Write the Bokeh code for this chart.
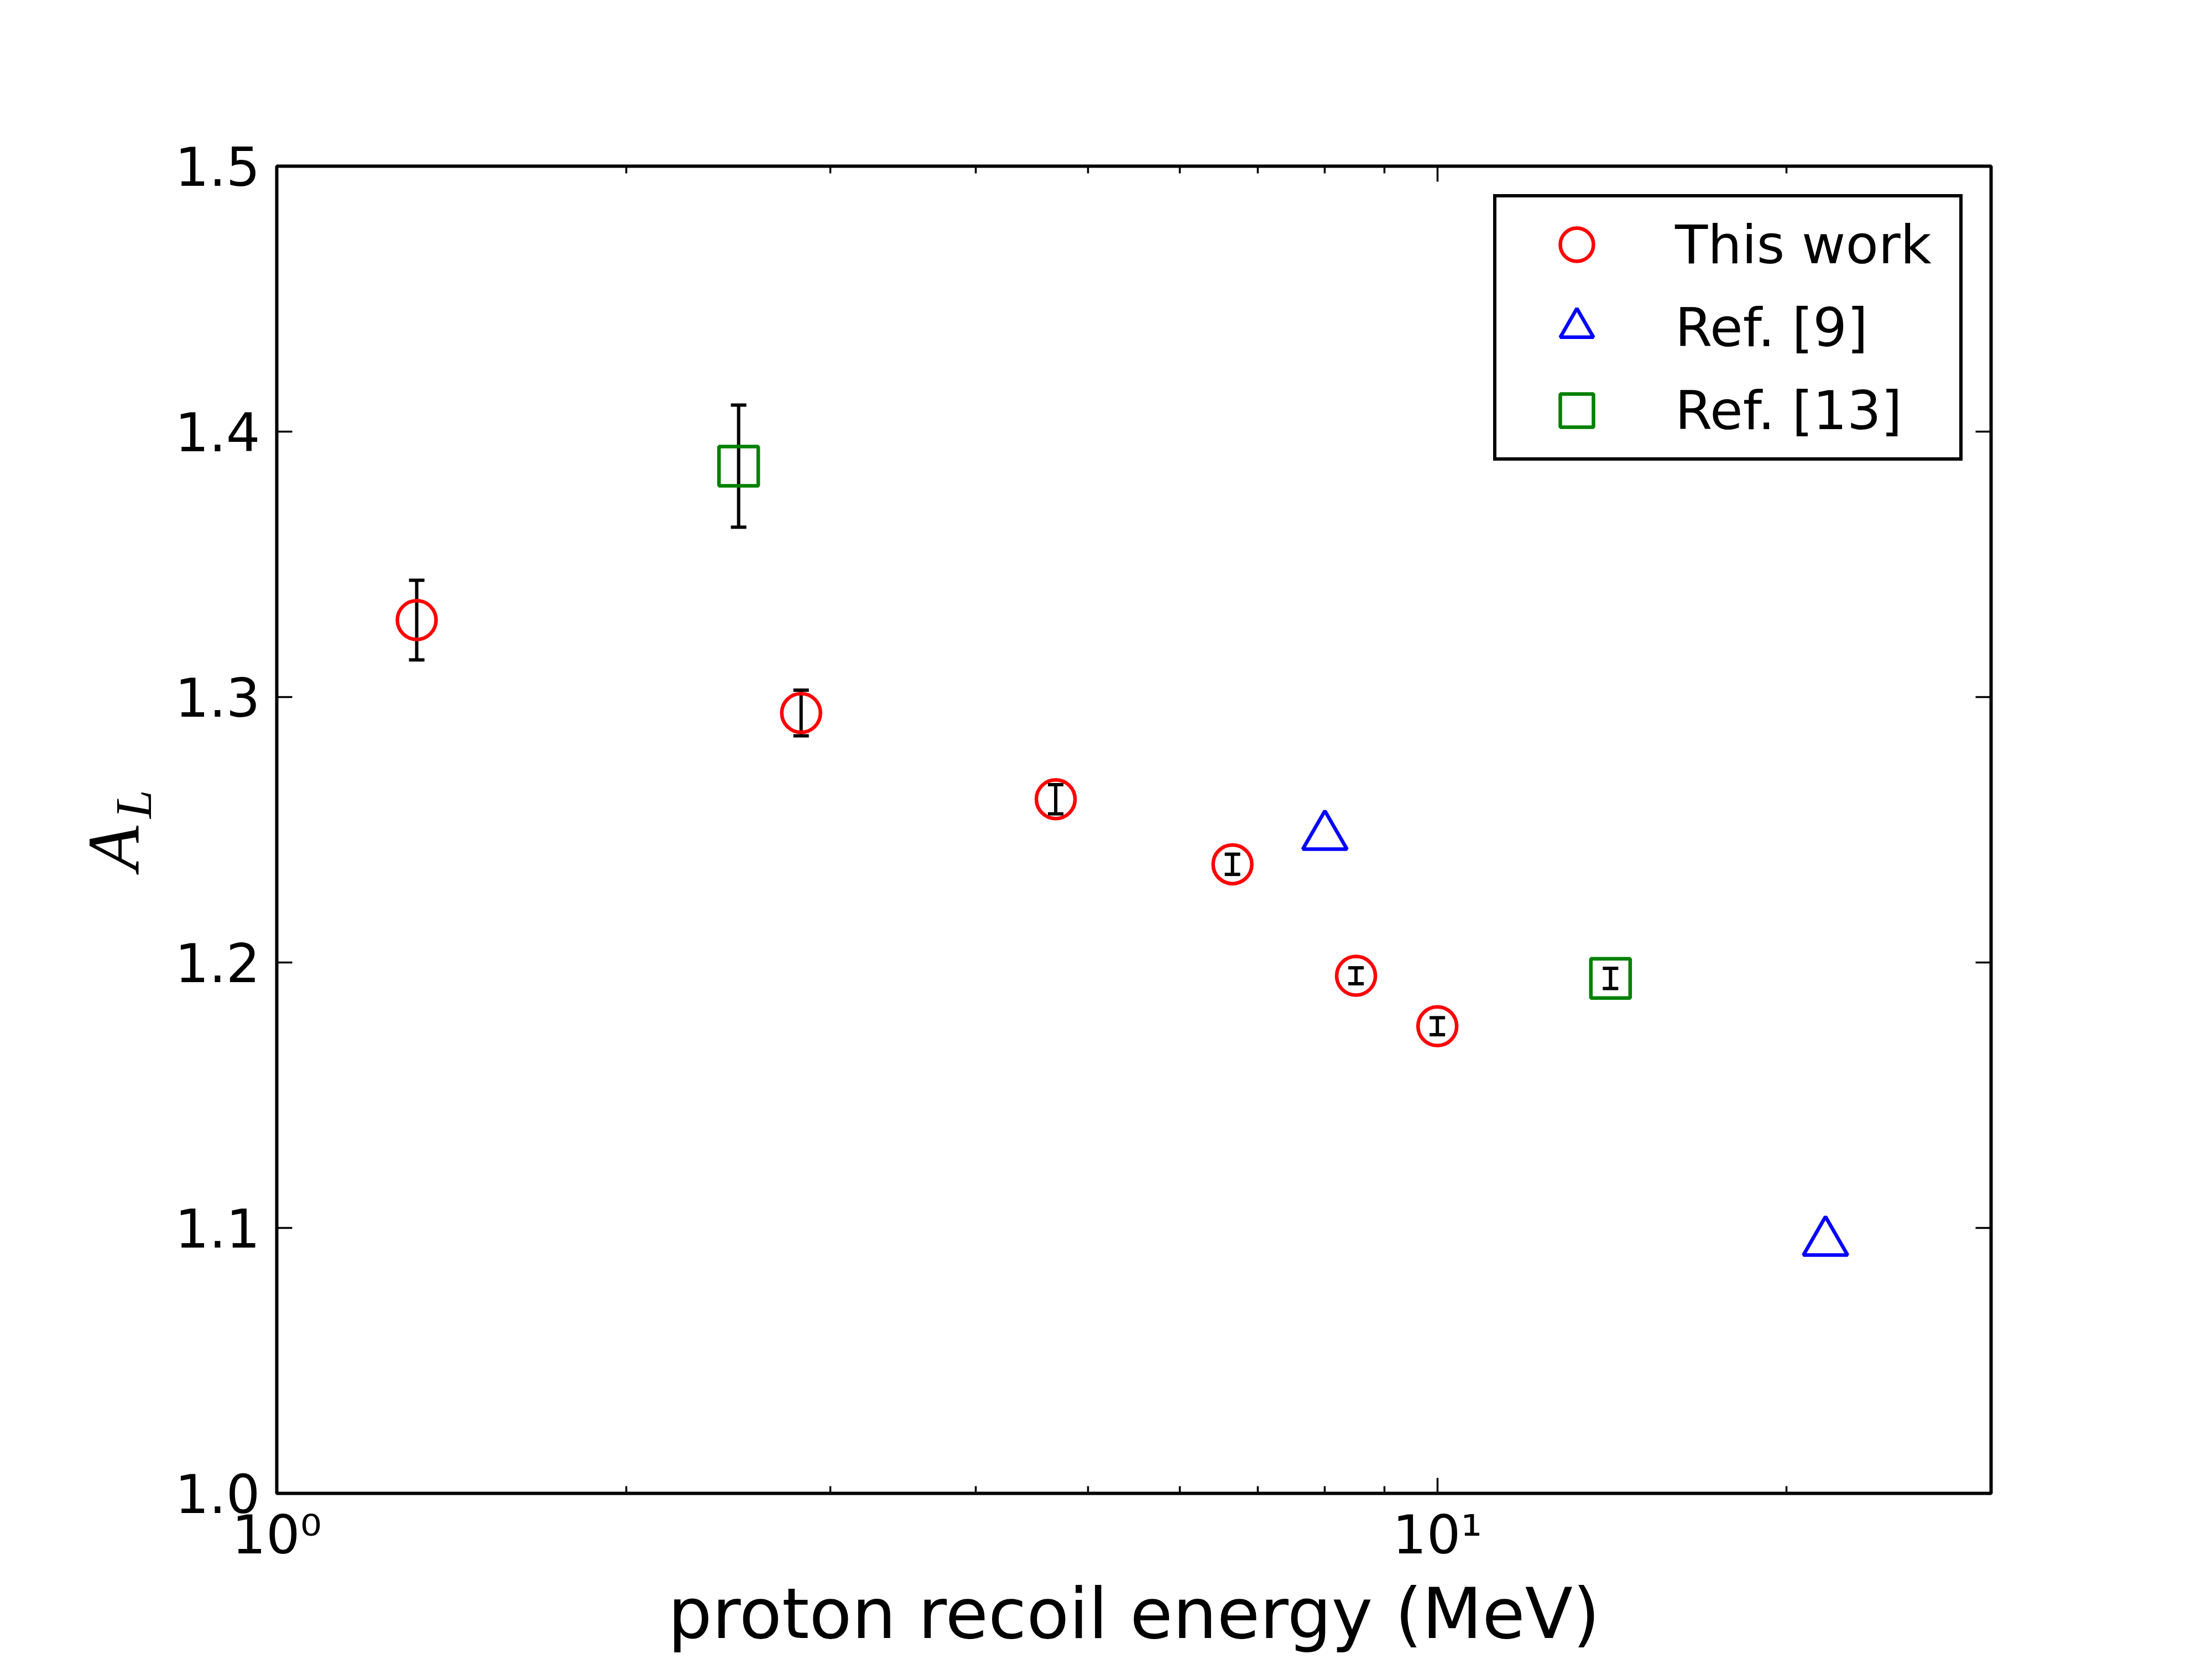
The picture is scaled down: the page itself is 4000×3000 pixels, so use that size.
from bokeh.plotting import figure
from bokeh.models import (ColumnDataSource, Range1d, FixedTicker, LogAxis, LinearAxis,
                          Whisker, TeeHead, Legend, LegendItem, CustomJSTickFormatter)
from bokeh.embed import file_html
from bokeh.resources import INLINE

# ---------------- data ----------------
this_work_energy = [1.32, 2.83, 4.69, 6.66, 8.51, 10.0]
this_work_al = [1.329, 1.294, 1.2615, 1.237, 1.195, 1.176]
this_work_err = [0.015, 0.0086, 0.0055, 0.0038, 0.003, 0.0032]

ref9_energy = [8.0, 21.6]
ref9_al = [1.2475, 1.0946]

ref13_energy = [2.50, 14.1]
ref13_al = [1.387, 1.194]
ref13_err = [0.023, 0.0038]

x_major_ticks = [1, 10]
x_minor_ticks = [2, 3, 4, 5, 6, 7, 8, 9, 20]
x_tick_labels = ["10\u2070", "10\u00b9"]
y_ticks = [1.0, 1.1, 1.2, 1.3, 1.4, 1.5]
y_tick_labels = ["1.0", "1.1", "1.2", "1.3", "1.4", "1.5"]
x_limits = [1, 30]
y_limits = [1.0, 1.5]

x_label = "proton recoil energy (MeV)"
y_label_main = "A"
y_label_sub = "L"
legend_labels = ["This work", "Ref. [9]", "Ref. [13]"]

# ---------------- figure ----------------
p = figure(width=4000, height=3000, x_axis_type="log",
           x_range=Range1d(*x_limits), y_range=Range1d(*y_limits),
           output_backend="svg", toolbar_location=None,
           min_border_left=500, min_border_right=400,
           min_border_top=300, min_border_bottom=300)
p.background_fill_color = "white"
p.border_fill_color = "white"
p.xgrid.visible = False
p.ygrid.visible = False
p.outline_line_color = "black"
p.outline_line_width = 6

xticker = FixedTicker(ticks=x_major_ticks, minor_ticks=x_minor_ticks)
yticker = FixedTicker(ticks=y_ticks, minor_ticks=[])

FONT = "DejaVu Sans"
TICK_FS = "97px"


def style_axis(ax):
    ax.axis_line_color = None
    ax.major_tick_in = 28
    ax.major_tick_out = 0
    ax.minor_tick_in = 13
    ax.minor_tick_out = 0
    ax.major_tick_line_width = 3.5
    ax.minor_tick_line_width = 3.5
    ax.major_tick_line_color = "black"
    ax.minor_tick_line_color = "black"
    ax.major_label_text_font = FONT
    ax.major_label_text_font_size = TICK_FS
    ax.major_label_text_color = "black"


xa = p.xaxis[0]
xa.ticker = xticker
xa.major_label_overrides = {t: l for t, l in zip(x_major_ticks, x_tick_labels)}
xa.major_label_standoff = 18
style_axis(xa)
xa.axis_label = x_label
xa.axis_label_text_font = FONT
xa.axis_label_text_font_size = "126px"
xa.axis_label_text_font_style = "normal"
xa.axis_label_text_color = "black"
xa.axis_label_standoff = 10

ya = p.yaxis[0]
ya.ticker = yticker
ya.major_label_overrides = {t: l for t, l in zip(y_ticks, y_tick_labels)}
ya.major_label_standoff = 30
style_axis(ya)
ya.minor_tick_line_color = None

top = LogAxis(ticker=xticker, formatter=CustomJSTickFormatter(code="return ''"))
style_axis(top)
top.major_label_text_font_size = "1px"
p.add_layout(top, "above")

right = LinearAxis(ticker=yticker, formatter=CustomJSTickFormatter(code="return ''"))
style_axis(right)
right.minor_tick_line_color = None
right.major_label_text_font_size = "1px"
p.add_layout(right, "right")


# y-axis title "A_L": main letter and subscript as two label-only axes
def title_axis(text, size, standoff):
    ax = LinearAxis(ticker=FixedTicker(ticks=[], minor_ticks=[]),
                    axis_label=text, axis_label_standoff=standoff,
                    axis_label_text_font="Liberation Serif",
                    axis_label_text_font_style="italic",
                    axis_label_text_font_size=size,
                    axis_label_text_color="black",
                    major_label_standoff=0, major_tick_in=0, major_tick_out=0,
                    minor_tick_in=0, minor_tick_out=0,
                    axis_line_color=None, major_tick_line_color=None,
                    minor_tick_line_color=None,
                    major_label_text_font_size="1px")
    p.add_layout(ax, "left")
    return ax


# em / en spaces shift the letters along the axis (subscript up, main letter down)
title_axis("\u2003" + y_label_sub, "93px", 21)
title_axis(y_label_main + "\u2002", "133px", -92)

# ---------------- data glyphs ----------------
src_tw = ColumnDataSource(dict(
    x=this_work_energy, y=this_work_al,
    upper=[v + e for v, e in zip(this_work_al, this_work_err)],
    lower=[v - e for v, e in zip(this_work_al, this_work_err)]))
src_r9 = ColumnDataSource(dict(x=ref9_energy, y=ref9_al))
src_r13 = ColumnDataSource(dict(
    x=ref13_energy, y=ref13_al,
    upper=[v + e for v, e in zip(ref13_al, ref13_err)],
    lower=[v - e for v, e in zip(ref13_al, ref13_err)]))

r_tw = p.scatter("x", "y", source=src_tw, marker="circle", size=70,
                 fill_color=None, line_color="#ff0000", line_width=6.5)
r_r9 = p.scatter("x", "y", source=src_r9, marker="triangle", size=80,
                 fill_color=None, line_color="#0000ff", line_width=6.5)
r_r13 = p.scatter("x", "y", source=src_r13, marker="square", size=71,
                  fill_color=None, line_color="#008000", line_width=6.5)

for src in (src_tw, src_r13):
    w = Whisker(source=src, base="x", upper="upper", lower="lower",
                dimension="height", line_color="black", line_width=6,
                upper_head=TeeHead(size=28, line_width=6, line_color="black"),
                lower_head=TeeHead(size=28, line_width=6, line_color="black"))
    p.add_layout(w)

# ---------------- legend ----------------
legend = Legend(items=[LegendItem(label=legend_labels[0], renderers=[r_tw]),
                       LegendItem(label=legend_labels[1], renderers=[r_r9]),
                       LegendItem(label=legend_labels[2], renderers=[r_r13])],
                location="top_right", margin=51, padding=10, spacing=0,
                glyph_width=270, glyph_height=150, label_standoff=43,
                label_width=504,
                label_text_font=FONT, label_text_font_size=TICK_FS,
                label_text_color="black", label_text_baseline="middle",
                border_line_color="black", border_line_width=6,
                border_line_alpha=1.0,
                background_fill_color="white", background_fill_alpha=1.0)
p.add_layout(legend)

open("out.html", "w").write(file_html(p, INLINE))
